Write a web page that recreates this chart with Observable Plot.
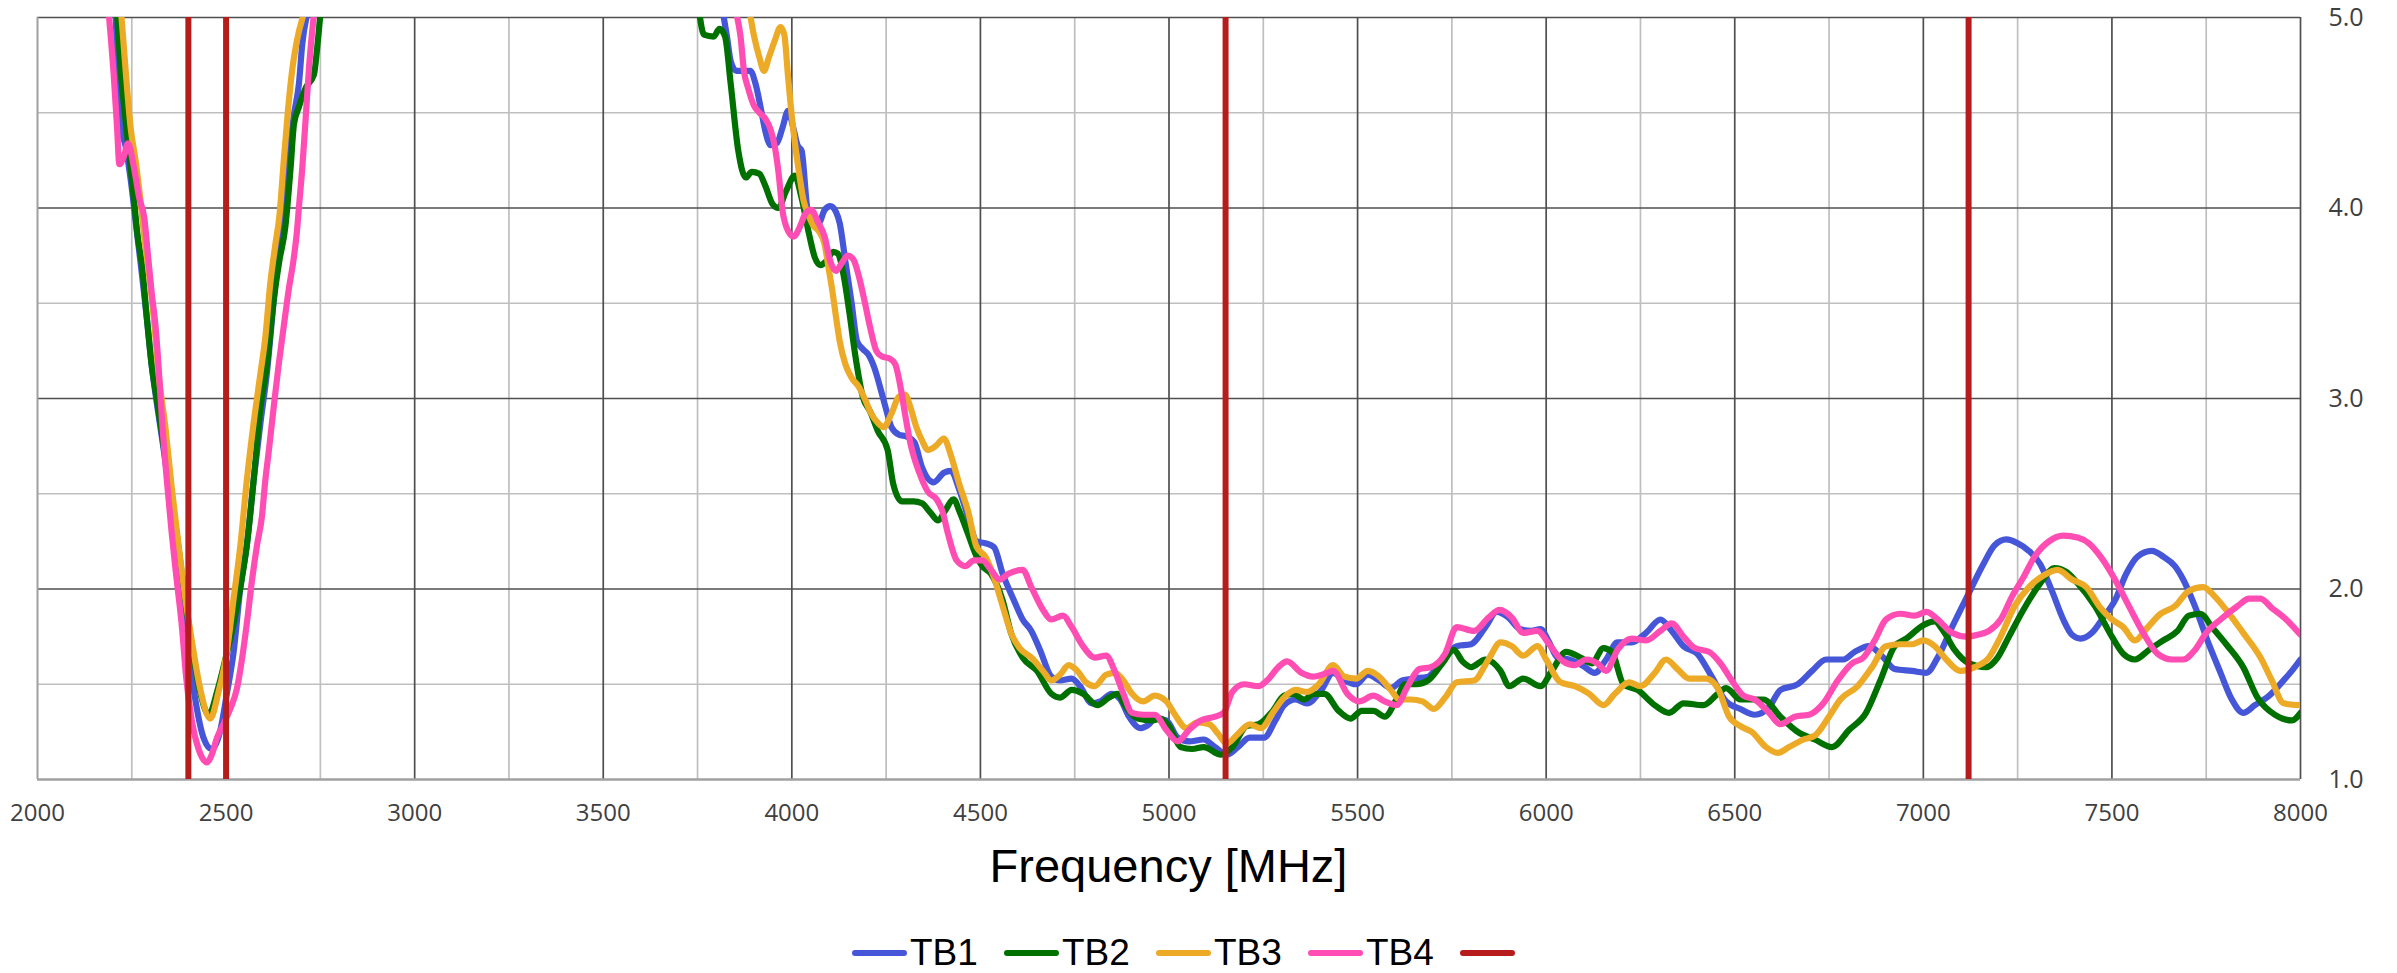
<!DOCTYPE html>
<html>
<head>
<meta charset="utf-8">
<script src="https://cdn.jsdelivr.net/npm/d3@7"></script>
<script src="https://cdn.jsdelivr.net/npm/@observablehq/plot@0.6"></script>
<style>
  html, body { margin: 0; padding: 0; background: #fff; }
  #wrap { position: relative; width: 2397px; height: 973px; overflow: hidden; background: #fff; }
  #chart svg { display: block; }
  #title { position: absolute; top: 842px; left: 37px; width: 2263px; text-align: center;
           font-family: "Liberation Sans", Arial, sans-serif; font-size: 47px; line-height: 47px; color: #000; }
  #legend { position: absolute; top: 934px; left: 852px; display: flex; }
  .item { display: flex; align-items: center; width: 152px; height: 37px; }
  .sw { width: 55px; height: 6px; border-radius: 3px; margin-right: 3px; }
  .lab { font-family: "Liberation Sans", Arial, sans-serif; font-size: 37px; line-height: 37px; color: #000; }
</style>
</head>
<body>
<div id="wrap">
  <div id="chart"></div>
  <div id="title"></div>
  <div id="legend"></div>
</div>
<script>
// ---------------- data ----------------
const seriesNames = ["TB1", "TB2", "TB3", "TB4"];
const seriesColors = ["#4556D8", "#007000", "#ECAA26", "#FF4DB3"];
const bandColor = "#B71C1C";
const bandEdges = [2400, 2500, 5150, 7120];

const xTicks = [2000, 2500, 3000, 3500, 4000, 4500, 5000, 5500, 6000, 6500, 7000, 7500, 8000];
const xMinor = [2250, 2750, 3250, 3750, 4250, 4750, 5250, 5750, 6250, 6750, 7250, 7750];
const yTicks = [1, 2, 3, 4, 5];
const yMinor = [1.5, 2.5, 3.5, 4.5];
const xTitle = "Frequency [MHz]";

// TB1 (blue)
const tb1Freq = [2207, 2214, 2223, 2233, 2247, 2262, 2277, 2290, 2303, 2316, 2334, 2352, 2369, 2387, 2405, 2420, 2440, 2462, 2485, 2502, 2520, 2538, 2555, 2573, 2591, 2608, 2626, 2640, 2653, 2667, 2680, 2693, 2702, 2715,
  3000,
  3818, 3828, 3838, 3853, 3873, 3890, 3904, 3919, 3929, 3944, 3960, 3975, 3990, 4005, 4015, 4026, 4041, 4056, 4071, 4087, 4102, 4117, 4127, 4142, 4158, 4173, 4188, 4203, 4219, 4234, 4249, 4264, 4284, 4305, 4325, 4345, 4376, 4403, 4422, 4444, 4467, 4490, 4513, 4536, 4559, 4589, 4612, 4635, 4658, 4688, 4711, 4742, 4764, 4795, 4818, 4848, 4871, 4894, 4924, 4947, 4962, 4993, 5023, 5053, 5092, 5122, 5153, 5183, 5214, 5252, 5282, 5305, 5336, 5366, 5404, 5435, 5465, 5496, 5527, 5557, 5588, 5618, 5649, 5687, 5725, 5763, 5801, 5839, 5869, 5900, 5930, 5960, 5985, 6008, 6030, 6061, 6095, 6129, 6159, 6189, 6227, 6265, 6303, 6333, 6364, 6401, 6439, 6477, 6515, 6553, 6591, 6621, 6667, 6705, 6742, 6788, 6818, 6856, 6894, 6924, 6970, 7008, 7038, 7076, 7121, 7159, 7189, 7220, 7250, 7280, 7310, 7341, 7371, 7394, 7417, 7447, 7477, 7508, 7538, 7568, 7606, 7636, 7667, 7689, 7720, 7757, 7788, 7818, 7848, 7879, 7917, 7955, 7977, 8000];
const tb1Val = [5.02, 4.65, 4.41, 4.33, 4.15, 3.90, 3.65, 3.42, 3.17, 2.98, 2.74, 2.48, 2.25, 1.90, 1.60, 1.40, 1.22, 1.16, 1.26, 1.45, 1.67, 2.01, 2.23, 2.57, 2.87, 3.13, 3.51, 3.80, 3.95, 4.28, 4.49, 4.65, 4.86, 5.02,
  null,
  5.02, 4.90, 4.77, 4.72, 4.72, 4.72, 4.65, 4.51, 4.41, 4.33, 4.34, 4.42, 4.51, 4.41, 4.33, 4.30, 4.00, 3.92, 3.92, 3.99, 4.01, 3.98, 3.92, 3.72, 3.51, 3.30, 3.26, 3.23, 3.16, 3.06, 2.95, 2.85, 2.81, 2.80, 2.77, 2.64, 2.56, 2.61, 2.62, 2.52, 2.38, 2.25, 2.24, 2.22, 2.08, 1.94, 1.84, 1.78, 1.68, 1.54, 1.52, 1.53, 1.49, 1.40, 1.41, 1.45, 1.42, 1.33, 1.27, 1.29, 1.32, 1.31, 1.22, 1.20, 1.21, 1.17, 1.13, 1.17, 1.22, 1.22, 1.31, 1.39, 1.42, 1.40, 1.47, 1.56, 1.52, 1.50, 1.55, 1.52, 1.48, 1.52, 1.53, 1.54, 1.63, 1.70, 1.71, 1.80, 1.88, 1.85, 1.79, 1.78, 1.79, 1.72, 1.64, 1.63, 1.60, 1.56, 1.63, 1.72, 1.72, 1.77, 1.84, 1.78, 1.70, 1.66, 1.54, 1.41, 1.37, 1.34, 1.38, 1.47, 1.50, 1.57, 1.63, 1.63, 1.67, 1.70, 1.64, 1.58, 1.57, 1.56, 1.64, 1.80, 1.98, 2.13, 2.23, 2.26, 2.24, 2.20, 2.13, 1.99, 1.84, 1.76, 1.74, 1.77, 1.85, 1.94, 2.08, 2.17, 2.20, 2.17, 2.12, 2.05, 1.91, 1.71, 1.56, 1.42, 1.35, 1.39, 1.44, 1.52, 1.57, 1.63];

// TB2 (green)
const tb2Freq = [2211, 2220, 2233, 2247, 2256, 2265, 2277, 2290, 2303, 2316, 2334, 2352, 2369, 2387, 2405, 2431, 2454, 2476, 2498, 2520, 2538, 2555, 2573, 2591, 2608, 2626, 2641, 2657, 2671, 2680, 2693, 2711, 2733, 2741, 2750,
  3000,
  3755, 3767, 3793, 3808, 3823, 3838, 3858, 3878, 3894, 3914, 3929, 3949, 3964, 3985, 4008, 4025, 4046, 4061, 4076, 4091, 4110, 4122, 4137, 4152, 4168, 4188, 4208, 4228, 4254, 4269, 4292, 4323, 4345, 4368, 4388, 4406, 4429, 4444, 4467, 4490, 4505, 4528, 4559, 4581, 4612, 4650, 4688, 4711, 4742, 4772, 4810, 4841, 4863, 4886, 4917, 4955, 4978, 5000, 5031, 5061, 5092, 5138, 5168, 5206, 5237, 5275, 5305, 5328, 5359, 5382, 5412, 5450, 5481, 5511, 5542, 5572, 5603, 5626, 5656, 5687, 5725, 5755, 5778, 5801, 5839, 5879, 5902, 5939, 5985, 6015, 6053, 6091, 6121, 6152, 6174, 6205, 6242, 6288, 6326, 6364, 6417, 6455, 6477, 6515, 6576, 6621, 6667, 6712, 6758, 6803, 6848, 6886, 6924, 6955, 7000, 7030, 7053, 7083, 7121, 7167, 7197, 7227, 7265, 7310, 7348, 7379, 7409, 7455, 7500, 7530, 7561, 7598, 7636, 7674, 7704, 7735, 7765, 7803, 7848, 7886, 7932, 7977, 8000];
const tb2Val = [5.02, 4.74, 4.47, 4.21, 4.04, 3.86, 3.70, 3.42, 3.17, 3.00, 2.76, 2.50, 2.29, 2.01, 1.76, 1.46, 1.34, 1.46, 1.63, 1.82, 2.01, 2.23, 2.57, 2.95, 3.17, 3.51, 3.72, 3.90, 4.21, 4.44, 4.53, 4.63, 4.70, 4.83, 5.02,
  null,
  5.02, 4.91, 4.90, 4.94, 4.90, 4.65, 4.30, 4.16, 4.19, 4.18, 4.12, 4.02, 4.00, 4.09, 4.17, 4.06, 3.86, 3.74, 3.70, 3.72, 3.77, 3.76, 3.65, 3.46, 3.23, 3.01, 2.93, 2.83, 2.73, 2.55, 2.46, 2.46, 2.45, 2.40, 2.36, 2.41, 2.47, 2.41, 2.29, 2.17, 2.12, 2.08, 1.94, 1.77, 1.64, 1.57, 1.45, 1.43, 1.47, 1.45, 1.39, 1.43, 1.45, 1.38, 1.32, 1.31, 1.32, 1.28, 1.17, 1.16, 1.17, 1.13, 1.17, 1.28, 1.29, 1.36, 1.44, 1.45, 1.42, 1.45, 1.45, 1.36, 1.32, 1.36, 1.36, 1.33, 1.42, 1.50, 1.50, 1.52, 1.61, 1.68, 1.62, 1.59, 1.63, 1.57, 1.49, 1.53, 1.49, 1.57, 1.67, 1.64, 1.61, 1.69, 1.67, 1.50, 1.47, 1.39, 1.35, 1.40, 1.39, 1.45, 1.48, 1.42, 1.42, 1.33, 1.25, 1.21, 1.17, 1.26, 1.35, 1.52, 1.70, 1.74, 1.81, 1.83, 1.78, 1.68, 1.61, 1.59, 1.64, 1.75, 1.89, 2.03, 2.11, 2.09, 2.03, 1.91, 1.75, 1.66, 1.63, 1.68, 1.73, 1.78, 1.86, 1.87, 1.80, 1.71, 1.59, 1.43, 1.34, 1.31, 1.35];

// TB3 (orange)
const tb3Freq = [2222, 2233, 2247, 2260, 2273, 2283, 2294, 2308, 2321, 2339, 2356, 2374, 2392, 2409, 2431, 2458, 2480, 2502, 2520, 2538, 2555, 2573, 2591, 2604, 2617, 2630, 2642, 2653, 2664, 2675, 2688, 2706,
  3000,
  3889, 3899, 3914, 3926, 3939, 3955, 3970, 3980, 3990, 4000, 4011, 4021, 4031, 4043, 4056, 4071, 4087, 4097, 4107, 4117, 4127, 4142, 4158, 4178, 4193, 4208, 4229, 4244, 4264, 4284, 4300, 4315, 4330, 4345, 4361, 4381, 4403, 4422, 4444, 4467, 4490, 4513, 4536, 4559, 4581, 4604, 4635, 4666, 4688, 4711, 4734, 4757, 4780, 4803, 4833, 4856, 4879, 4902, 4932, 4962, 4993, 5016, 5046, 5076, 5107, 5130, 5153, 5183, 5214, 5244, 5275, 5305, 5336, 5366, 5397, 5435, 5465, 5496, 5527, 5557, 5588, 5611, 5641, 5672, 5702, 5732, 5763, 5809, 5847, 5879, 5909, 5939, 5977, 6000, 6038, 6076, 6114, 6152, 6182, 6220, 6250, 6288, 6318, 6348, 6379, 6424, 6455, 6485, 6515, 6545, 6583, 6614, 6644, 6682, 6712, 6750, 6780, 6826, 6864, 6901, 6939, 6970, 7000, 7030, 7061, 7098, 7136, 7174, 7205, 7242, 7280, 7318, 7356, 7394, 7432, 7470, 7500, 7530, 7561, 7591, 7629, 7667, 7704, 7742, 7773, 7803, 7848, 7894, 7924, 7955, 8000];
const tb3Val = [5.02, 4.74, 4.42, 4.25, 4.04, 3.85, 3.68, 3.43, 3.13, 2.85, 2.53, 2.23, 1.95, 1.73, 1.48, 1.32, 1.46, 1.67, 1.95, 2.23, 2.57, 2.87, 3.13, 3.32, 3.60, 3.80, 3.97, 4.25, 4.51, 4.72, 4.88, 5.02,
  null,
  5.02, 4.91, 4.79, 4.72, 4.79, 4.88, 4.95, 4.91, 4.69, 4.48, 4.30, 4.16, 4.04, 3.97, 3.91, 3.88, 3.81, 3.69, 3.57, 3.43, 3.30, 3.18, 3.11, 3.06, 3.00, 2.93, 2.87, 2.85, 2.92, 3.01, 3.02, 2.95, 2.85, 2.78, 2.73, 2.75, 2.79, 2.70, 2.55, 2.41, 2.22, 2.17, 2.06, 1.91, 1.77, 1.69, 1.64, 1.57, 1.52, 1.55, 1.60, 1.57, 1.51, 1.49, 1.55, 1.56, 1.52, 1.45, 1.41, 1.44, 1.41, 1.34, 1.27, 1.30, 1.29, 1.24, 1.19, 1.24, 1.29, 1.27, 1.35, 1.43, 1.47, 1.46, 1.50, 1.60, 1.54, 1.53, 1.57, 1.54, 1.47, 1.42, 1.42, 1.41, 1.37, 1.43, 1.51, 1.52, 1.63, 1.72, 1.70, 1.65, 1.70, 1.63, 1.51, 1.49, 1.45, 1.39, 1.45, 1.51, 1.49, 1.56, 1.63, 1.58, 1.53, 1.53, 1.48, 1.33, 1.28, 1.25, 1.17, 1.14, 1.17, 1.21, 1.23, 1.33, 1.42, 1.49, 1.59, 1.70, 1.71, 1.71, 1.73, 1.70, 1.63, 1.57, 1.59, 1.64, 1.75, 1.91, 2.01, 2.07, 2.10, 2.05, 2.01, 1.90, 1.84, 1.80, 1.73, 1.79, 1.87, 1.91, 1.99, 2.01, 1.96, 1.89, 1.77, 1.64, 1.52, 1.40, 1.39];

// TB4 (pink)
const tb4Freq = [2189, 2202, 2211, 2217, 2229, 2240, 2255, 2270, 2283, 2293, 2303, 2312, 2321, 2330, 2343, 2356, 2369, 2383, 2394, 2409, 2427, 2449, 2462, 2476, 2493, 2511, 2529, 2542, 2555, 2569, 2582, 2595, 2604, 2613, 2626, 2639, 2653, 2666, 2679, 2688, 2693, 2702, 2711, 2720, 2733,
  3000,
  3853, 3864, 3873, 3884, 3899, 3914, 3929, 3944, 3955, 3965, 3975, 3990, 4005, 4021, 4036, 4051, 4071, 4087, 4102, 4117, 4132, 4148, 4163, 4178, 4193, 4208, 4224, 4239, 4259, 4274, 4290, 4300, 4315, 4338, 4361, 4384, 4399, 4414, 4437, 4460, 4483, 4505, 4528, 4551, 4574, 4612, 4635, 4666, 4688, 4719, 4742, 4772, 4803, 4833, 4856, 4879, 4902, 4932, 4962, 4993, 5023, 5053, 5084, 5122, 5145, 5168, 5199, 5237, 5260, 5290, 5313, 5351, 5382, 5420, 5435, 5473, 5504, 5542, 5572, 5603, 5633, 5664, 5694, 5732, 5763, 5809, 5847, 5877, 5909, 5939, 5977, 6008, 6045, 6076, 6106, 6136, 6159, 6189, 6227, 6265, 6303, 6333, 6364, 6394, 6432, 6462, 6492, 6523, 6553, 6591, 6621, 6659, 6697, 6735, 6773, 6811, 6841, 6871, 6901, 6939, 6977, 7008, 7038, 7076, 7114, 7144, 7174, 7205, 7235, 7265, 7295, 7333, 7371, 7409, 7439, 7470, 7508, 7545, 7583, 7621, 7659, 7689, 7720, 7750, 7788, 7833, 7864, 7894, 7924, 7962, 8000];
const tb4Val = [5.02, 4.70, 4.42, 4.23, 4.27, 4.34, 4.22, 4.05, 3.95, 3.75, 3.55, 3.40, 3.17, 2.89, 2.57, 2.29, 2.05, 1.80, 1.54, 1.31, 1.16, 1.09, 1.13, 1.22, 1.29, 1.37, 1.48, 1.63, 1.82, 2.05, 2.23, 2.38, 2.57, 2.72, 2.95, 3.17, 3.38, 3.57, 3.73, 3.88, 4.00, 4.21, 4.47, 4.74, 5.02,
  null,
  5.02, 4.90, 4.72, 4.63, 4.54, 4.50, 4.47, 4.41, 4.32, 4.18, 3.99, 3.88, 3.85, 3.90, 3.97, 3.99, 3.92, 3.85, 3.72, 3.67, 3.71, 3.75, 3.73, 3.64, 3.51, 3.37, 3.25, 3.22, 3.21, 3.18, 3.04, 2.92, 2.76, 2.61, 2.51, 2.47, 2.41, 2.29, 2.15, 2.12, 2.15, 2.15, 2.10, 2.05, 2.08, 2.10, 2.01, 1.89, 1.84, 1.86, 1.80, 1.70, 1.64, 1.65, 1.57, 1.45, 1.35, 1.34, 1.34, 1.26, 1.20, 1.26, 1.31, 1.33, 1.35, 1.46, 1.50, 1.49, 1.52, 1.59, 1.62, 1.56, 1.54, 1.56, 1.57, 1.45, 1.41, 1.44, 1.41, 1.39, 1.49, 1.58, 1.59, 1.66, 1.80, 1.78, 1.85, 1.89, 1.85, 1.77, 1.78, 1.71, 1.62, 1.60, 1.63, 1.61, 1.57, 1.68, 1.74, 1.73, 1.78, 1.82, 1.75, 1.69, 1.67, 1.61, 1.52, 1.44, 1.42, 1.35, 1.29, 1.33, 1.34, 1.40, 1.52, 1.61, 1.64, 1.73, 1.84, 1.87, 1.86, 1.88, 1.84, 1.77, 1.75, 1.76, 1.78, 1.84, 1.96, 2.06, 2.17, 2.25, 2.28, 2.27, 2.24, 2.17, 2.05, 1.91, 1.77, 1.66, 1.63, 1.63, 1.68, 1.77, 1.84, 1.91, 1.95, 1.95, 1.90, 1.84, 1.76];

// ---------------- build ----------------
const freqs = [tb1Freq, tb2Freq, tb3Freq, tb4Freq];
const vals = [tb1Val, tb2Val, tb3Val, tb4Val];
const seriesData = seriesNames.map((name, k) =>
  freqs[k].map((f, i) => ({series: name, freq: f, val: vals[k][i]})));

const lineMarks = seriesData.map((data, k) =>
  Plot.line(data, {
    x: "freq", y: "val",
    stroke: seriesColors[k], strokeWidth: 6.2,
    strokeLinejoin: "round", strokeLinecap: "round",
    curve: "monotone-x", clip: true
  }));

const chart = Plot.plot({
  width: 2397,
  height: 840,
  marginLeft: 37,
  marginRight: 97,
  marginTop: 17,
  marginBottom: 61,
  x: {domain: [2000, 8000]},
  y: {domain: [1, 5]},
  style: {fontFamily: "'Open Sans', sans-serif", color: "#404040", background: "#fff", overflow: "visible"},
  marks: [
    Plot.ruleX(xMinor, {stroke: "#BFBFBF", strokeWidth: 1.7}),
    Plot.ruleY(yMinor, {stroke: "#BFBFBF", strokeWidth: 1.7}),
    Plot.ruleX(xTicks.filter(d => d !== 2000), {stroke: "#4F4F4F", strokeWidth: 1.7}),
    Plot.ruleY(yTicks.filter(d => d !== 1), {stroke: "#4F4F4F", strokeWidth: 1.7}),
    Plot.ruleX([2000], {stroke: "#A0A0A0", strokeWidth: 2}),
    Plot.ruleY([1], {stroke: "#A0A0A0", strokeWidth: 2.4}),
    ...lineMarks,
    Plot.ruleX(bandEdges, {stroke: bandColor, strokeWidth: 6, y1: 1, y2: 5}),
    Plot.axisX(xTicks, {tickSize: 0, tickPadding: 24, fontSize: 24, tickFormat: "d", label: null, fill: "#404040"}),
    Plot.axisY(yTicks, {anchor: "right", tickSize: 0, tickPadding: 28, fontSize: 25, tickFormat: ".1f", label: null, fill: "#404040"})
  ]
});
document.getElementById("chart").appendChild(chart);

// title
document.getElementById("title").textContent = xTitle;

// legend
const legend = document.getElementById("legend");
const legendNames = [...seriesNames, ""];
const legendColors = [...seriesColors, bandColor];
legendNames.forEach((name, i) => {
  const item = document.createElement("div");
  item.className = "item";
  const sw = document.createElement("span");
  sw.className = "sw";
  sw.style.background = legendColors[i];
  item.appendChild(sw);
  if (name) {
    const lab = document.createElement("span");
    lab.className = "lab";
    lab.textContent = name;
    item.appendChild(lab);
  }
  legend.appendChild(item);
});
</script>
</body>
</html>
